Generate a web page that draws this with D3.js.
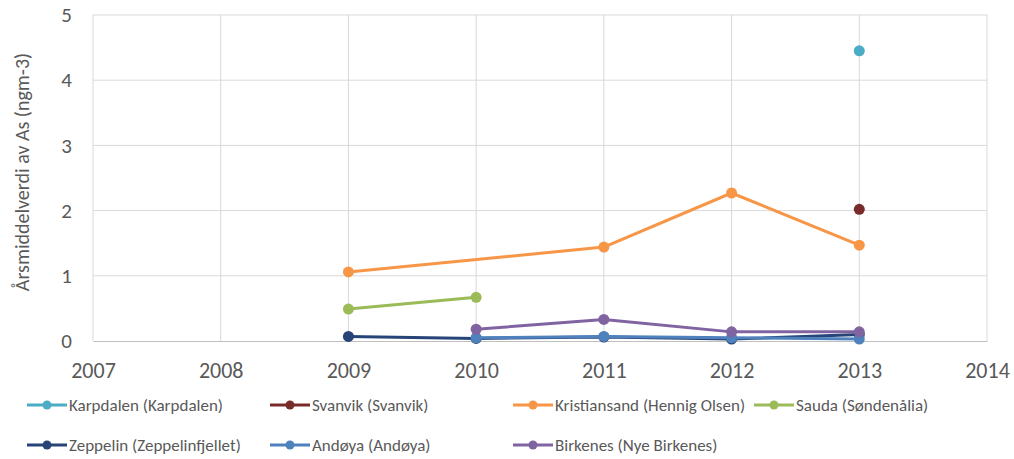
<!DOCTYPE html>
<html>
<head>
<meta charset="utf-8">
<script src="https://cdn.jsdelivr.net/npm/d3@7"></script>
<style>
body{margin:0;background:#fff;}
text{font-family:Calibri,Carlito,Lato,"Open Sans",Arial,sans-serif;}
</style>
</head>
<body>
<svg id="basicSVG" width="1014" height="459"></svg>
<script>
var years = [2009, 2010, 2011, 2012, 2013];
var seriesNames = ["Karpdalen (Karpdalen)","Svanvik (Svanvik)","Kristiansand (Hennig Olsen)","Sauda (Søndenålia)",
	"Zeppelin (Zeppelinfjellet)","Andøya (Andøya)","Birkenes (Nye Birkenes)"];
var karpdalen   = [null, null, null, null, 4.45];
var svanvik     = [null, null, null, null, 2.02];
var kristiansand= [1.06, null, 1.44, 2.27, 1.47];
var sauda       = [0.49, 0.67, null, null, null];
var zeppelin    = [0.07, 0.04, 0.06, 0.03, 0.10];
var andoya      = [null, 0.05, 0.07, 0.05, 0.03];
var birkenes    = [null, 0.18, 0.33, 0.14, 0.14];
var seriesValues = [karpdalen, svanvik, kristiansand, sauda, zeppelin, andoya, birkenes];
var seriesColor = ["#4BACC6","#772C2A","#F79646","#9BBB59","#264478","#4F81BD","#8064A2"];
var xTicks = [2007,2008,2009,2010,2011,2012,2013,2014];
var yTicks = [0,1,2,3,4,5];

var svg = d3.select("#basicSVG");
var x = d3.scaleLinear().domain([2007,2014]).range([93,987]);
var y = d3.scaleLinear().domain([0,5]).range([341,15]);

//網格
svg.append("g").selectAll("line").data(yTicks.slice(1)).enter().append("line")
	.attr("x1",x(2007)).attr("x2",x(2014)).attr("y1",d=>y(d)).attr("y2",d=>y(d))
	.attr("stroke","#d9d9d9").attr("stroke-width",1);
svg.append("g").selectAll("line").data(xTicks).enter().append("line")
	.attr("x1",d=>x(d)).attr("x2",d=>x(d)).attr("y1",y(0)).attr("y2",y(5))
	.attr("stroke","#d9d9d9").attr("stroke-width",1);

//軸
var xAxis = svg.append("g").attr("transform","translate(0,"+y(0)+")")
	.call(d3.axisBottom(x).tickValues(xTicks).tickFormat(d3.format("d")).tickSize(0).tickPadding(21));
xAxis.select(".domain").attr("stroke","#bfbfbf");
xAxis.selectAll("text").attr("font-size",22).attr("fill","#595959");

var yAxis = svg.append("g").attr("transform","translate("+x(2007)+",0)")
	.call(d3.axisLeft(y).tickValues(yTicks).tickFormat(d3.format("d")).tickSize(0).tickPadding(21));
yAxis.select(".domain").remove();
yAxis.selectAll("text").attr("font-size",21).attr("fill","#595959");

svg.append("text").text("Årsmiddelverdi av As (ngm-3)")
	.attr("transform","translate(29,172) rotate(-90)")
	.attr("text-anchor","middle").attr("font-size",20).attr("fill","#595959");

//資料線
var line = d3.line().x(d=>x(d[0])).y(d=>y(d[1]));
for(var i in seriesValues)
{
	var pts = years.map((yr,k)=>[yr,seriesValues[i][k]]);
	var valid = pts.filter(d=>d[1]!=null);
	svg.append("path").datum(valid).attr("d",line)
		.attr("fill","none").attr("stroke",seriesColor[i]).attr("stroke-width",3).attr("stroke-linejoin","round");
	svg.append("g").selectAll("circle").data(valid).enter().append("circle")
		.attr("cx",d=>x(d[0])).attr("cy",d=>y(d[1])).attr("r",5.5).attr("fill",seriesColor[i]);
}

//圖例
var legendColX = [27,270,513,754];
var legendRowY = [405,445];
for(var i in seriesNames)
{
	var lx = legendColX[i%4];
	var ly = legendRowY[Math.floor(i/4)];
	var g = svg.append("g");
	g.append("line").attr("x1",lx).attr("x2",lx+40).attr("y1",ly).attr("y2",ly)
		.attr("stroke",seriesColor[i]).attr("stroke-width",3);
	g.append("circle").attr("cx",lx+20).attr("cy",ly).attr("r",4.5).attr("fill",seriesColor[i]);
	g.append("text").text(seriesNames[i]).attr("x",lx+42).attr("y",ly+6)
		.attr("font-size",17).attr("fill","#595959");
}
</script>
</body>
</html>
